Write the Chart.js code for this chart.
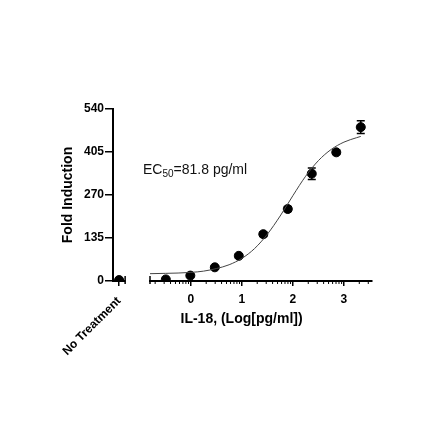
<!DOCTYPE html>
<html><head><meta charset="utf-8">
<script src="https://cdn.jsdelivr.net/npm/chart.js@4.4.1/dist/chart.umd.min.js"></script>
<style>
html,body{margin:0;padding:0;background:#fff;}
#wrap{position:relative;width:440px;height:440px;overflow:hidden;background:#fff;}
#left{position:absolute;left:0;top:0;width:140px;height:440px;}
#right{position:absolute;left:140px;top:0;width:300px;height:440px;}
#ec50{position:absolute;left:143px;top:161px;font:14px "Liberation Sans",Arial,sans-serif;line-height:16px;color:#111;white-space:nowrap;}
#ec50 sub{font-size:10px;line-height:0;vertical-align:-3px;}
</style></head>
<body>
<div id="wrap">
  <div id="left"><canvas id="c1"></canvas></div>
  <div id="right"><canvas id="c2"></canvas></div>
  <div id="ec50">EC<sub>50</sub>=81.8 pg/ml</div>
</div>
<script>
// ---- data ----
const ntCategory = ['No Treatment'];
const ntFold = [3];
const ntSD = [4];

const logDose = [-0.49, -0.01, 0.47, 0.94, 1.42, 1.90, 2.37, 2.85, 3.33];
const foldInduction = [5, 17, 43, 79, 147, 226, 337, 404, 483];
const foldSD = [3, 4, 5, 6, 7, 8, 18, 7, 20];

const fitLog  = [-0.8, -0.5, -0.25, 0, 0.25, 0.5, 0.75, 1, 1.25, 1.5, 1.75, 2, 2.25, 2.5, 2.75, 3, 3.25, 3.33];
const fitFold = [23, 24, 25, 27, 31, 39, 51, 71, 102, 147, 204, 268, 329, 378, 413, 436, 450, 454];

const yTickValues = [0, 135, 270, 405, 540];
const xTickValues = [0, 1, 2, 3];
const yRange = [0, 540];
const xRange = [-0.8, 3.55];

const yTitle = 'Fold Induction';
const xTitle = 'IL-18, (Log[pg/ml])';

// ---- styling ----
const FONT = '"Liberation Sans", Arial, Helvetica, sans-serif';
Chart.defaults.font.family = FONT;
Chart.defaults.color = '#000';
const AREA_TOP = 109;
const XAXIS_H = 159;

function errorBars(values, errors, dsIndex) {
  return {
    id: 'errorBars',
    beforeDatasetsDraw(chart) {
      const meta = chart.getDatasetMeta(dsIndex);
      const ys = chart.scales.y, ctx = chart.ctx;
      ctx.save();
      ctx.strokeStyle = '#000'; ctx.lineWidth = 1.5;
      meta.data.forEach((pt, i) => {
        const x = pt.x;
        const y1 = ys.getPixelForValue(values[i] + errors[i]);
        const y2 = ys.getPixelForValue(values[i] - errors[i]);
        ctx.beginPath();
        ctx.moveTo(x, y1); ctx.lineTo(x, y2);
        ctx.moveTo(x - 4, y1); ctx.lineTo(x + 4, y1);
        ctx.moveTo(x - 4, y2); ctx.lineTo(x + 4, y2);
        ctx.stroke();
      });
      ctx.restore();
    }
  };
}

const axisDecor = (side, minor) => ({
  id: 'axisDecor',
  afterDraw(chart) {
    const ctx = chart.ctx, ca = chart.chartArea, xs = chart.scales.x;
    ctx.save();
    ctx.strokeStyle = '#000'; ctx.lineWidth = 1.5;
    const bx = side === 'right' ? ca.right : ca.left;
    ctx.beginPath(); ctx.moveTo(bx, ca.bottom - 5); ctx.lineTo(bx, ca.bottom + 3); ctx.stroke();
    if (minor) {
      ctx.lineWidth = 1;
      for (let d = -1; d <= 3; d++) {
        for (let k = 2; k <= 9; k++) {
          const v = d + Math.log10(k);
          if (v <= xs.min || v >= xs.max) continue;
          const px = xs.getPixelForValue(v);
          ctx.beginPath(); ctx.moveTo(px, ca.bottom); ctx.lineTo(px, ca.bottom + 3); ctx.stroke();
        }
      }
    }
    ctx.restore();
  }
});

const tickGrid = { drawOnChartArea: false, drawTicks: true, tickLength: 5, color: '#000', lineWidth: 1.5 };
const axisBorder = { display: true, color: '#000', width: 2 };

// ---- left panel: y axis + No Treatment ----
new Chart(document.getElementById('c1'), {
  type: 'line',
  data: {
    labels: ntCategory,
    datasets: [{
      data: ntFold, showLine: false, pointRadius: 4.5, pointHoverRadius: 4.5,
      backgroundColor: '#000', borderColor: '#000'
    }]
  },
  options: {
    responsive: true, maintainAspectRatio: false, animation: false,
    layout: { padding: { top: AREA_TOP, left: 0, right: 1, bottom: 0 } },
    plugins: { legend: { display: false }, tooltip: { enabled: false } },
    scales: {
      x: {
        type: 'category', offset: true,
        grid: Object.assign({}, tickGrid, { offset: false }),
        border: axisBorder,
        ticks: { color: '#000', font: { size: 12, weight: 'bold' }, maxRotation: 45, minRotation: 45, padding: 8 },
        afterFit(s) { s.height = XAXIS_H; }
      },
      y: {
        min: yRange[0], max: yRange[1],
        afterBuildTicks(s) { s.ticks = yTickValues.map(v => ({ value: v })); },
        grid: Object.assign({}, tickGrid, { tickLength: 8 }),
        border: axisBorder,
        ticks: { color: '#000', font: { size: 12, weight: 'bold' }, padding: 1 },
        title: { display: true, text: yTitle, color: '#000', font: { size: 14, weight: 'bold' }, padding: { top: 60, bottom: 0 } },
        afterFit(s) { s.width = 113; }
      }
    }
  },
  plugins: [errorBars(ntFold, ntSD, 0), axisDecor('right', false)]
});

// ---- right panel: dose response ----
new Chart(document.getElementById('c2'), {
  type: 'scatter',
  data: {
    datasets: [
      {
        type: 'line',
        data: fitLog.map((x, i) => ({ x: x, y: fitFold[i] })),
        borderColor: '#444', borderWidth: 1, pointRadius: 0, pointHoverRadius: 0,
        cubicInterpolationMode: 'monotone', fill: false
      },
      {
        data: logDose.map((x, i) => ({ x: x, y: foldInduction[i] })),
        pointRadius: 4.5, pointHoverRadius: 4.5,
        backgroundColor: '#000', borderColor: '#000'
      }
    ]
  },
  options: {
    responsive: true, maintainAspectRatio: false, animation: false,
    layout: { padding: { top: AREA_TOP, left: 10, right: 68, bottom: 0 } },
    plugins: { legend: { display: false }, tooltip: { enabled: false } },
    scales: {
      x: {
        type: 'linear', min: xRange[0], max: xRange[1],
        afterBuildTicks(s) { s.ticks = xTickValues.map(v => ({ value: v })); },
        grid: tickGrid,
        border: axisBorder,
        ticks: { color: '#000', font: { size: 12, weight: 'bold' }, padding: 6 },
        title: { display: true, text: xTitle + '          ', color: '#000', font: { size: 14, weight: 'bold' }, padding: { top: 0, bottom: 112 } },
        afterFit(s) { s.height = XAXIS_H; }
      },
      y: { display: false, min: yRange[0], max: yRange[1] }
    }
  },
  plugins: [errorBars(foldInduction, foldSD, 1), axisDecor('left', true)]
});
</script>
</body></html>
